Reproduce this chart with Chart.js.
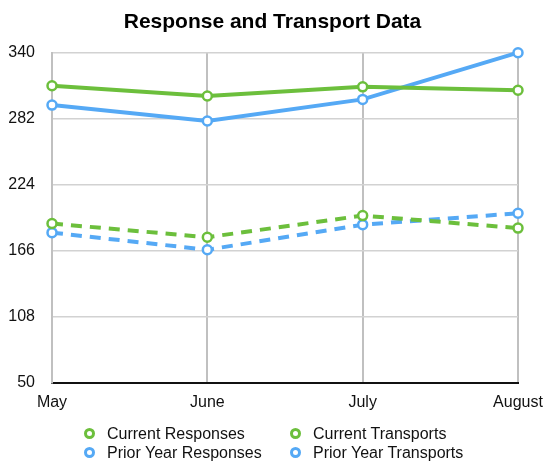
<!DOCTYPE html>
<html>
<head>
<meta charset="utf-8">
<script src="https://cdn.jsdelivr.net/npm/chart.js@4.4.1/dist/chart.umd.min.js"></script>
<style>
  html, body { margin: 0; padding: 0; background: #fff; }
  #wrap { position: relative; width: 545px; height: 462px; }
  #legend {
    position: absolute; left: 84px; top: 424px;
    display: grid; grid-auto-flow: column;
    grid-template-rows: 19px 19px; grid-template-columns: 206px 220px;
    font-family: "Liberation Sans", Arial, Helvetica, sans-serif; font-size: 16px; color: #111;
  }
  .item { display: flex; align-items: center; white-space: nowrap; }
  .mk { box-sizing: border-box; width: 11px; height: 11px; border-radius: 50%; border: 3px solid; background: #fff; margin-right: 12px; }
</style>
</head>
<body>
<div id="wrap">
  <canvas id="c" width="545" height="462"></canvas>
  <div id="legend"></div>
</div>
<script>
const months = ['May', 'June', 'July', 'August'];
const currentResponses = [311, 302, 310, 307];
const priorYearResponses = [294, 280, 299, 340];
const currentTransports = [190, 178, 197, 186];
const priorYearTransports = [182, 167, 189, 199];
const yTicks = [50, 108, 166, 224, 282, 340];

const GREEN = '#6cbf3c';
const BLUE = '#55a9f5';

function ds(label, data, color, dashed) {
  return {
    label, data,
    borderColor: color, backgroundColor: color,
    borderWidth: 4, borderDash: dashed ? [11, 8] : [],
    borderCapStyle: 'butt',
    pointRadius: 4.5, pointBorderWidth: 2.5,
    pointBackgroundColor: '#fff', pointBorderColor: color,
    tension: 0, fill: false, clip: false
  };
}

const chart = new Chart(document.getElementById('c'), {
  type: 'line',
  data: {
    labels: months,
    datasets: [
      ds('Current Responses', currentResponses, GREEN, false),
      ds('Prior Year Responses', priorYearResponses, BLUE, false),
      ds('Current Transports', currentTransports, GREEN, true),
      ds('Prior Year Transports', priorYearTransports, BLUE, true)
    ]
  },
  options: {
    responsive: false, animation: false,
    layout: { padding: { top: 0, left: 0, right: 0, bottom: 50 } },
    plugins: {
      legend: { display: false },
      tooltip: { enabled: false },
      title: {
        display: true, text: 'Response and Transport Data', color: '#000',
        font: { family: '"Liberation Sans", Arial, Helvetica, sans-serif', size: 21, weight: 'bold' },
        padding: { top: 10, bottom: 17.5 }
      }
    },
    scales: {
      x: {
        offset: false,
        grid: { color: '#c0c0c0', lineWidth: 2, drawTicks: false },
        border: { color: '#111', width: 2 },
        ticks: { color: '#111', padding: 10, maxRotation: 0, autoSkip: false,
          font: { family: '"Liberation Sans", Arial, Helvetica, sans-serif', size: 16 } },
        afterFit: (s) => { s.height = 29; s.paddingRight = 27; s.paddingLeft = 0; }
      },
      y: {
        min: 50, max: 340,
        grid: { color: '#d2d2d2', lineWidth: 1.5, drawTicks: false },
        border: { color: '#c0c0c0', width: 2 },
        ticks: { color: '#111', padding: 17,
          font: { family: '"Liberation Sans", Arial, Helvetica, sans-serif', size: 16 } },
        afterBuildTicks: (s) => { s.ticks = yTicks.map(v => ({ value: v })); },
        afterFit: (s) => { s.width = 52; }
      }
    }
  }
});

// HTML legend built from the chart datasets (column-major, 2 rows)
const legendEl = document.getElementById('legend');
chart.data.datasets.forEach(d => {
  const it = document.createElement('div'); it.className = 'item';
  const mk = document.createElement('span'); mk.className = 'mk'; mk.style.borderColor = d.borderColor;
  const tx = document.createElement('span'); tx.textContent = d.label;
  it.appendChild(mk); it.appendChild(tx); legendEl.appendChild(it);
});
</script>
</body>
</html>
